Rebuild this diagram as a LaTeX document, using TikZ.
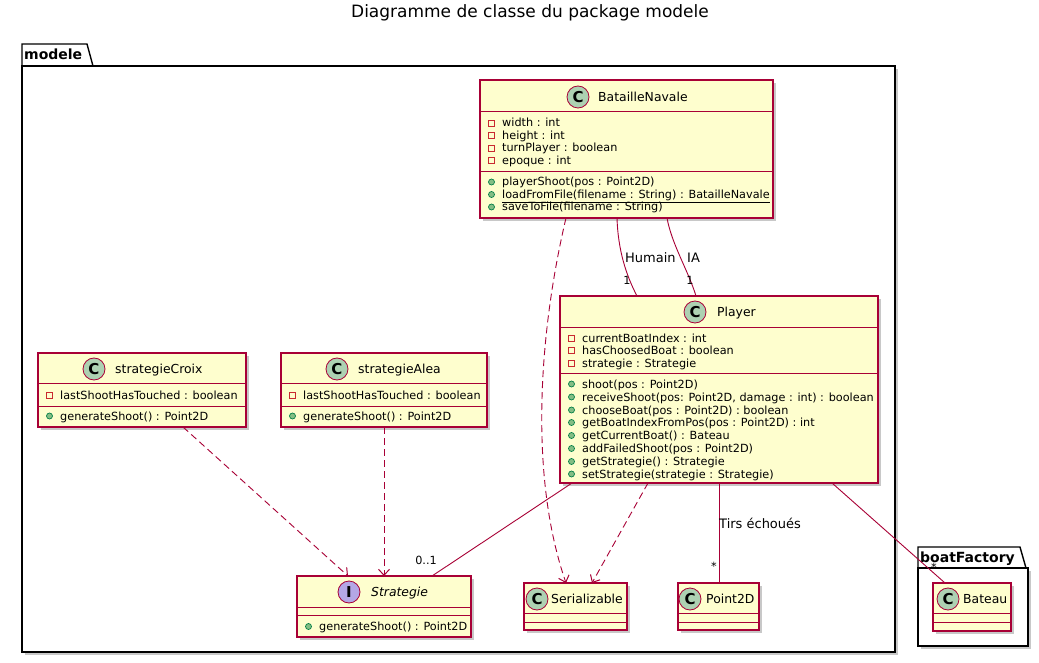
\documentclass[tikz,border=0pt]{standalone}
\usepackage{fontspec}
\setmainfont{DejaVu Sans}
\usetikzlibrary{shadows,arrows.meta,calc}
\definecolor{classfill}{HTML}{FEFECE}
\definecolor{umlred}{HTML}{A80036}
\definecolor{cgreen}{HTML}{ADD1B2}
\definecolor{ipurple}{HTML}{B4A7E5}
\definecolor{privred}{HTML}{C82930}
\definecolor{pubfill}{HTML}{84BE84}
\definecolor{publine}{HTML}{038048}
\tikzset{
  classbox/.style={draw=umlred, line width=1.2pt, fill=classfill, inner sep=0pt, outer sep=0pt, anchor=north west,
    drop shadow={shadow xshift=3pt, shadow yshift=-3pt, opacity=0.3, fill=black!70}},
  pkgbox/.style={draw=black, line width=1.4pt, fill=white, inner sep=0pt, outer sep=0pt, anchor=north west,
    drop shadow={shadow xshift=3pt, shadow yshift=-3pt, opacity=0.3, fill=black!70}},
  pkgtab/.style={draw=black, line width=1.4pt, fill=white},
  sepline/.style={draw=umlred, line width=1pt},
  membertext/.style={anchor=base west, inner sep=0pt, font=\fontsize{11.25}{13}\selectfont},
  nametext/.style={anchor=base west, inner sep=0pt, font=\fontsize{12.4}{14}\selectfont},
  pkgtext/.style={anchor=base west, inner sep=0pt, font=\bfseries\fontsize{14}{16}\selectfont},
  edgetext/.style={inner sep=0pt, font=\fontsize{13}{15}\selectfont},
  multtext/.style={inner sep=0pt, font=\fontsize{11.25}{13}\selectfont},
  spot/.style={circle, draw=umlred, line width=0.8pt, minimum size=22pt, inner sep=0pt, font=\bfseries\fontsize{15}{15}\selectfont},
  assoc/.style={draw=umlred, line width=0.9pt},
  dep/.style={assoc, dash pattern=on 7pt off 4pt, -{Straight Barb[length=6pt,width=11pt,line width=1pt]}},
}
\newcommand\privattr[4]{%
  \draw[privred, line width=0.8pt] (#1+8.5,#2-3) rectangle (#1+14.5,#2+3);
  \node[membertext] (#4) at (#1+22,#2+4) {#3};}
\newcommand\pubmeth[4]{%
  \draw[publine, fill=pubfill, line width=0.7pt] (#1+11.5,#2) circle (3);
  \node[membertext] (#4) at (#1+22,#2+4) {#3};}
\begin{document}
\begin{tikzpicture}[x=1pt,y=-1pt]
\useasboundingbox (0,0) rectangle (1039,663);
\fill[white] (0,0) rectangle (1039,663);

\node[font=\fontsize{17}{20}\selectfont, inner sep=0pt] (title) at (530,13) {Diagramme de classe du package modele};

% packages
\draw[pkgtab] (22,66) -- (22,44) -- (87,44) -- (93,66);
\node[pkgbox, minimum width=873pt, minimum height=586pt] (modele) at (22,66) {};
\node[pkgtext] (modeleL) at (24,60) {modele};
\draw[pkgtab] (918,568) -- (918,547) -- (1020,547) -- (1026,568);
\node[pkgbox, minimum width=110pt, minimum height=78pt] (boatF) at (918,568) {};
\node[pkgtext] (boatFL) at (920,562) {boatFactory};

% BatailleNavale
\node[classbox, minimum width=293pt, minimum height=138pt] (bn) at (480,80) {};
\draw[sepline] (480,112) -- (773,112);
\draw[sepline] (480,172) -- (773,172);
\node[spot, fill=cgreen] (bnC) at (578,97) {C};
\node[nametext] (bnN) at (598,101.5) {BatailleNavale};
\privattr{480}{123}{width : int}{bn1}
\privattr{480}{135.5}{height : int}{bn2}
\privattr{480}{148}{turnPlayer : boolean}{bn3}
\privattr{480}{160.5}{epoque : int}{bn4}
\pubmeth{480}{182}{playerShoot(pos : Point2D)}{bn5}
\pubmeth{480}{194.5}{\underline{loadFromFile(filename : String) : BatailleNavale}}{bn6}
\pubmeth{480}{207}{saveToFile(filename : String)}{bn7}

% Player
\node[classbox, minimum width=318pt, minimum height=187pt] (pl) at (560,296) {};
\draw[sepline] (560,327) -- (878,327);
\draw[sepline] (560,373) -- (878,373);
\node[spot, fill=cgreen] (plC) at (695,312) {C};
\node[nametext] (plN) at (717,316.5) {Player};
\privattr{560}{338}{currentBoatIndex : int}{pl1}
\privattr{560}{350.5}{hasChoosedBoat : boolean}{pl2}
\privattr{560}{363}{strategie : Strategie}{pl3}
\pubmeth{560}{384}{shoot(pos : Point2D)}{pl4}
\pubmeth{560}{397}{receiveShoot(pos: Point2D, damage : int) : boolean}{pl5}
\pubmeth{560}{410}{chooseBoat(pos : Point2D) : boolean}{pl6}
\pubmeth{560}{422.5}{getBoatIndexFromPos(pos : Point2D) : int}{pl7}
\pubmeth{560}{435.5}{getCurrentBoat() : Bateau}{pl8}
\pubmeth{560}{448.5}{addFailedShoot(pos : Point2D)}{pl9}
\pubmeth{560}{461.5}{getStrategie() : Strategie}{pl10}
\pubmeth{560}{474}{setStrategie(strategie : Strategie)}{pl11}

% strategieCroix
\node[classbox, minimum width=208pt, minimum height=74pt] (sc) at (38,353) {};
\draw[sepline] (38,383) -- (246,383);
\draw[sepline] (38,406) -- (246,406);
\node[spot, fill=cgreen] (scC) at (94,369) {C};
\node[nametext] (scN) at (115,373.5) {strategieCroix};
\privattr{38}{395}{lastShootHasTouched : boolean}{sc1}
\pubmeth{38}{416}{generateShoot() : Point2D}{sc2}

% strategieAlea
\node[classbox, minimum width=206pt, minimum height=74pt] (sa) at (281,353) {};
\draw[sepline] (281,383) -- (487,383);
\draw[sepline] (281,406) -- (487,406);
\node[spot, fill=cgreen] (saC) at (337,369) {C};
\node[nametext] (saN) at (358,373.5) {strategieAlea};
\privattr{281}{395}{lastShootHasTouched : boolean}{sa1}
\pubmeth{281}{416}{generateShoot() : Point2D}{sa2}

% Strategie (interface)
\node[classbox, minimum width=174pt, minimum height=61pt] (st) at (297,576) {};
\draw[sepline] (297,607) -- (471,607);
\draw[sepline] (297,615) -- (471,615);
\node[spot, fill=ipurple] (stI) at (349,592) {I};
\node[nametext, font=\itshape\fontsize{12.4}{14}\selectfont] (stN) at (371,596.5) {Strategie};
\pubmeth{297}{626.5}{generateShoot() : Point2D}{st1}

% Serializable
\node[classbox, minimum width=103pt, minimum height=47pt] (se) at (524,583) {};
\draw[sepline] (524,613) -- (627,613);
\draw[sepline] (524,622) -- (627,622);
\node[spot, fill=cgreen] (seC) at (537,599) {C};
\node[nametext] (seN) at (551,603.5) {Serializable};

% Point2D
\node[classbox, minimum width=81pt, minimum height=47pt] (pt) at (678,583) {};
\draw[sepline] (678,613) -- (759,613);
\draw[sepline] (678,622) -- (759,622);
\node[spot, fill=cgreen] (ptC) at (690,599) {C};
\node[nametext] (ptN) at (706,603.5) {Point2D};

% Bateau
\node[classbox, minimum width=78pt, minimum height=48pt] (ba) at (933,583) {};
\draw[sepline] (933,613) -- (1011,613);
\draw[sepline] (933,622) -- (1011,622);
\node[spot, fill=cgreen] (baC) at (948,599) {C};
\node[nametext] (baN) at (963,603.5) {Bateau};

% connectors
\draw[dep] ($(bn.south west)+(86,0)$) .. controls ($(bn.south west)+(60,110)$) and ($(se.north west)+(4,-110)$) .. ($(se.north west)+(42,0)$);
\draw[dep] ($(pl.south west)+(88,0)$) -- ($(se.north west)+(68,0)$);
\draw[dep] ($(sc.south west)+(145,0)$) -- ($(st.north west)+(51,0)$);
\draw[dep] ($(sa.south west)+(103,0)$) -- ($(st.north west)+(87,0)$);
\draw[assoc] ($(pl.south west)+(12,0)$) -- ($(st.north west)+(135,0)$);
\node[multtext] (m01) at (426,560) {0..1};
\draw[assoc] ($(bn.south west)+(137,0)$) .. controls ($(bn.south west)+(138,32)$) and ($(pl.north west)+(66,-21)$) .. ($(pl.north west)+(77,0)$);
\node[edgetext, anchor=west] (lHum) at (625,258) {Humain};
\node[multtext] (m1a) at (627,280) {1};
\draw[assoc] ($(bn.south west)+(187,0)$) .. controls ($(bn.south west)+(192,27)$) and ($(pl.north west)+(128,-26)$) .. ($(pl.north west)+(136,0)$);
\node[edgetext, anchor=west] (lIA) at (687,258) {IA};
\node[multtext] (m1b) at (690,280) {1};
\draw[assoc] ($(pl.south west)+(159,0)$) -- ($(pt.north west)+(41,0)$);
\node[edgetext, anchor=west] (lTirs) at (719,523) {Tirs échoués};
\node[multtext] (mst1) at (714,566) {*};
\draw[assoc] ($(pl.south west)+(272,0)$) -- ($(ba.north west)+(12,0)$);
\node[multtext] (mst2) at (934,567) {*};
\end{tikzpicture}
\end{document}
